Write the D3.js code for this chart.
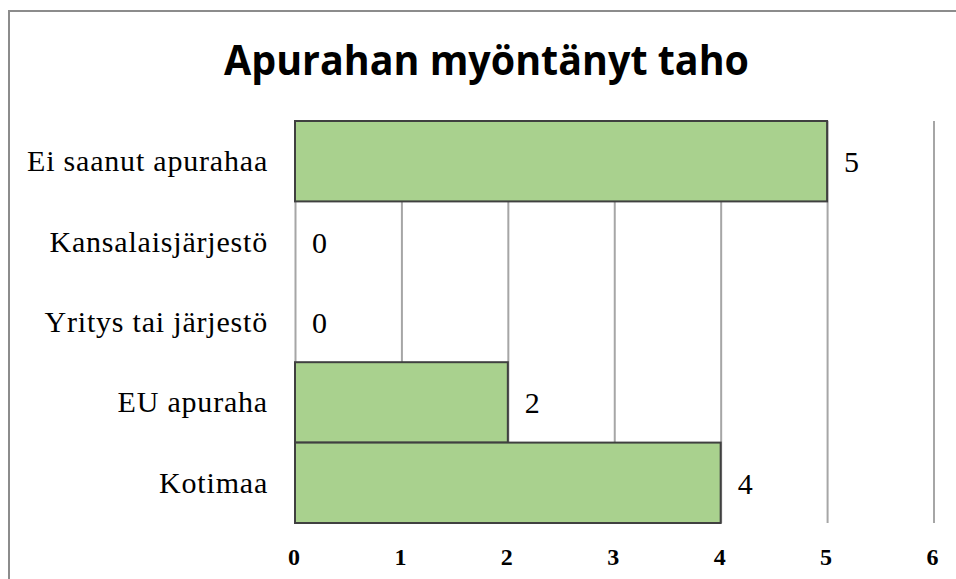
<!DOCTYPE html>
<html>
<head>
<meta charset="UTF-8">
<style>
body{
	margin: 0;
	background: #fff;
}
svg{
	display: block;
}
.title{
	font-family: "Open Sans", sans-serif;
	font-weight: bold;
	font-size: 42px;
	text-anchor: middle;
	fill: #000;
}
.y.axis text{
	font-family: "Liberation Serif", serif;
	font-size: 30px;
	letter-spacing: 0.8px;
	fill: #000;
}
.x.axis text{
	font-family: "Liberation Serif", serif;
	font-size: 24px;
	font-weight: bold;
	fill: #000;
}
.x.axis line{
	stroke: #a6a6a6;
	stroke-width: 2px;
}
.axis path{
	display: none;
}
.bar{
	fill: #a9d18e;
	stroke: #404040;
	stroke-width: 2px;
}
.value-label{
	font-family: "Liberation Serif", serif;
	font-size: 30px;
	fill: #000;
}
.frame{
	fill: none;
	stroke: #8c8c8c;
	stroke-width: 2px;
}
</style>
<script src="https://cdn.jsdelivr.net/npm/d3@7"></script>
</head>
<body>
<script>
var categories = ["Ei saanut apurahaa", "Kansalaisjärjestö", "Yritys tai järjestö", "EU apuraha", "Kotimaa"];
var values = [5, 0, 0, 2, 4];
var xTicks = [0, 1, 2, 3, 4, 5, 6];
var titleText = "Apurahan myöntänyt taho";

var W = 956, H = 579;
var plot = {left: 295, right: 933.5, top: 121, bottom: 523};

var data = categories.map(function(c, i){ return {name: c, value: values[i]}; });

var svg = d3.select("body").append("svg")
	.attr("width", W)
	.attr("height", H);

// chart frame (continues past the right and bottom edges)
svg.append("rect")
	.attr("class", "frame")
	.attr("x", 9)
	.attr("y", 11)
	.attr("width", W + 20)
	.attr("height", H + 20);

svg.append("text")
	.attr("class", "title")
	.attr("x", 486.5)
	.attr("y", 75)
	.attr("textLength", 525)
	.attr("lengthAdjust", "spacingAndGlyphs")
	.text(titleText);

var x = d3.scaleLinear()
	.domain([0, 6])
	.range([plot.left, plot.right]);

var y = d3.scaleBand()
	.domain(categories)
	.range([plot.top, plot.bottom])
	.paddingInner(0)
	.paddingOuter(0);

// vertical gridlines + tick labels
var xAxis = d3.axisBottom(x)
	.tickValues(xTicks)
	.tickFormat(d3.format("d"))
	.tickSizeInner(-(plot.bottom - plot.top))
	.tickSizeOuter(0);

var gx = svg.append("g")
	.attr("class", "x axis")
	.attr("transform", "translate(0," + plot.bottom + ")")
	.call(xAxis);
gx.selectAll("text")
	.attr("y", 42)
	.attr("dy", 0)
	.attr("dx", -1.5);

var yAxis = d3.axisLeft(y)
	.tickSize(0)
	.tickPadding(27);

var gy = svg.append("g")
	.attr("class", "y axis")
	.attr("transform", "translate(" + plot.left + ",0)")
	.call(yAxis);
gy.selectAll("text")
	.attr("dy", 10);

svg.append("g")
	.selectAll("rect")
	.data(data.filter(function(d){ return d.value > 0; }))
	.enter().append("rect")
	.attr("class", "bar")
	.attr("x", x(0))
	.attr("y", function(d){ return y(d.name); })
	.attr("width", function(d){ return x(d.value) - x(0); })
	.attr("height", y.bandwidth());

svg.append("g")
	.selectAll("text")
	.data(data)
	.enter().append("text")
	.attr("class", "value-label")
	.attr("x", function(d){ return x(d.value) + 17; })
	.attr("y", function(d){ return y(d.name) + y.bandwidth() / 2 + 11; })
	.text(function(d){ return d.value; });
</script>
</body>
</html>
